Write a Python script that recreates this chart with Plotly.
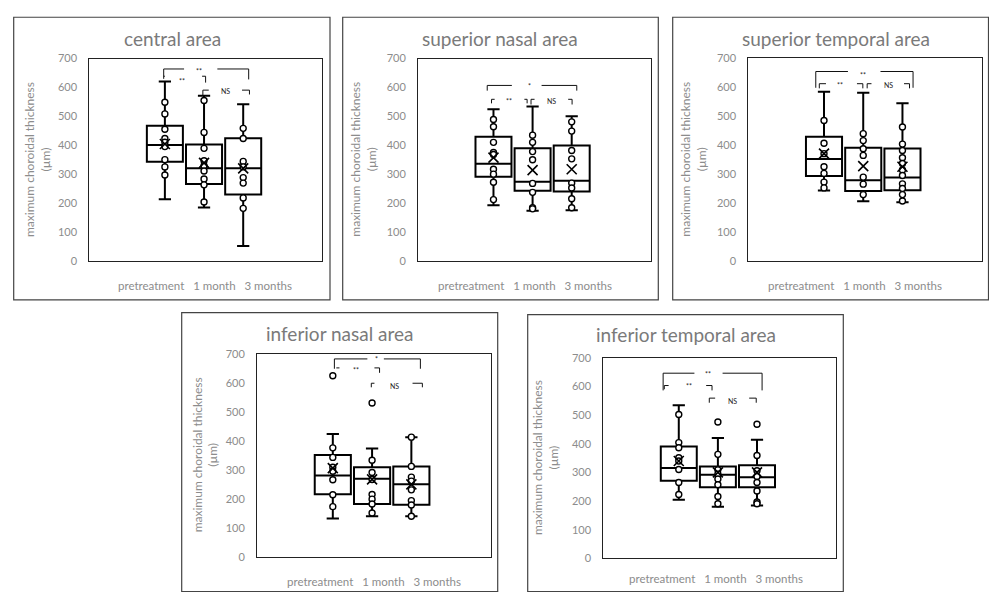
import plotly.graph_objects as go

W, H = 989, 598

categories = ["pretreatment", "1 month", "3 months"]
y_ticks = [0, 100, 200, 300, 400, 500, 600, 700]
titles = ["central area", "superior nasal area", "superior temporal area",
          "inferior nasal area", "inferior temporal area"]

# ---- central area ----
central_q1 = [344, 267, 231]
central_median = [402, 321, 321]
central_q3 = [468, 403, 425]
central_lower = [214, 186, 53]
central_upper = [621, 572, 542]
central_mean = [405, 340, 321]
central_points = [[549, 509, 456, 424, 411, 396, 351, 326, 298],
                  [555, 445, 390, 347, 330, 312, 284, 264, 205],
                  [459, 424, 345, 326, 289, 270, 219, 183]]

# ---- superior nasal area ----
sn_q1 = [291, 243, 240]
sn_median = [336, 274, 277]
sn_q3 = [429, 390, 399]
sn_lower = [192, 173, 175]
sn_upper = [525, 534, 500]
sn_mean = [357, 314, 317]
sn_points = [[489, 464, 410, 375, 368, 317, 300, 272, 212],
             [435, 410, 378, 350, 268, 237, 184, 180],
             [481, 449, 382, 353, 269, 252, 215, 184]]

# ---- superior temporal area ----
st_q1 = [294, 242, 245]
st_median = [353, 279, 289]
st_q3 = [429, 391, 389]
st_lower = [244, 207, 204]
st_upper = [584, 581, 545]
st_mean = [371, 328, 326]
st_points = [[485, 407, 371, 326, 303, 273, 253],
             [440, 416, 388, 365, 290, 266, 230],
             [463, 404, 382, 357, 337, 315, 296, 267, 251, 230, 208]]

# ---- inferior nasal area ----
in_q1 = [216, 182, 180]
in_median = [281, 269, 250]
in_q3 = [351, 309, 312]
in_lower = [132, 140, 140]
in_upper = [424, 374, 413]
in_mean = [306, 267, 250]
in_points = [[625, 376, 343, 309, 295, 266, 214, 173],
             [531, 333, 291, 267, 215, 199, 182, 151],
             [413, 312, 275, 261, 231, 194, 179, 140]]

# ---- inferior temporal area ----
it_q1 = [271, 248, 248]
it_median = [315, 292, 283]
it_q3 = [390, 321, 325]
it_lower = [205, 180, 185]
it_upper = [534, 420, 414]
it_mean = [340, 300, 300]
it_points = [[502, 404, 386, 351, 340, 310, 265, 223],
             [476, 363, 309, 294, 277, 257, 216, 191],
             [468, 359, 306, 286, 265, 235, 197, 191]]

# significance labels
sig_central = ["**", "**", "NS"]
sig_sn = ["*", "**", "NS"]
sig_st = ["**", "**", "NS"]
sig_in = ["*", "**", "NS"]
sig_it = ["**", "**", "NS"]

stats = [
    (central_q1, central_median, central_q3, central_lower, central_upper, central_mean, central_points, sig_central),
    (sn_q1, sn_median, sn_q3, sn_lower, sn_upper, sn_mean, sn_points, sig_sn),
    (st_q1, st_median, st_q3, st_lower, st_upper, st_mean, st_points, sig_st),
    (in_q1, in_median, in_q3, in_lower, in_upper, in_mean, in_points, sig_in),
    (it_q1, it_median, it_q3, it_lower, it_upper, it_mean, it_points, sig_it),
]

# ---- layout geometry (pixels) ----
geom = [
    dict(plot=(89.3, 52.7, 322.3, 260.0), frame=(13.7, 10.5, 330.0, 299.3),
         title=(172, 31.7), ytitle=(38, 156.4), leg=(205, 285)),
    dict(plot=(418.0, 52.7, 650.7, 259.5), frame=(342.7, 10.5, 658.3, 299.3),
         title=(500, 31.7), ytitle=(364, 156.1), leg=(525, 285)),
    dict(plot=(748.3, 52.3, 981.7, 260.0), frame=(672.7, 10.5, 988.5, 299.3),
         title=(836, 31.7), ytitle=(694, 156.1), leg=(855, 285)),
    dict(plot=(257.0, 354.7, 490.7, 562.0), frame=(181.7, 312.5, 497.7, 597.5),
         title=(340, 334), ytitle=(205, 458.3), leg=(373.5, 587)),
    dict(plot=(603.3, 358.5, 836.0, 563.7), frame=(527.7, 314.5, 843.3, 597.5),
         title=(686, 334.7), ytitle=(545, 461.1), leg=(716, 584)),
]

# bracket geometry in data units: (x0, x1, ytop, yleft, yright, gap0, gap1, lx, ly)
brackets = [
    [(-0.03, 2.14, 664, 630, 628, 0.49, 1.34, 0.87, 656),
     (-0.03, 1.04, 639, 639, 617, 0.00, 0.95, 0.44, 622),
     (0.97, 2.16, 591, 572, 576, 1.12, 1.97, 1.55, 587)],
    [(-0.16, 2.13, 607, 589, 589, 0.47, 1.23, 0.91, 606),
     (-0.05, 0.86, 559, 545, 545, 0.03, 0.79, 0.39, 553),
     (0.96, 2.01, 559, 541, 541, 1.05, 1.91, 1.49, 554)],
    [(-0.21, 2.27, 654, 598, 598, 0.61, 1.44, 0.99, 642),
     (-0.12, 0.99, 612, 596, 596, 0.05, 0.84, 0.41, 608),
     (1.10, 2.18, 612, 596, 596, 1.21, 2.04, 1.65, 608)],
    [(0.04, 2.23, 683, 649, 649, 0.88, 1.30, 1.12, 682),
     (0.09, 1.19, 652, 652, 635, 0.17, 1.06, 0.58, 644),
     (0.98, 2.28, 599, 585, 585, 1.06, 2.03, 1.57, 591)],
    [(-0.40, 2.13, 646, 586, 586, 0.40, 1.12, 0.74, 644),
     (-0.37, 0.85, 603, 590, 586, -0.26, 0.70, 0.25, 602),
     (0.78, 1.98, 559, 543, 543, 0.93, 1.80, 1.38, 549)],
]

FONT = "Lato, 'Open Sans', sans-serif"
GREY = "#8c8c8c"
TITLE_GREY = "#7a7a7a"
XR = [-1.93, 4.02]

def px(x):
    return x / W

def py(y):
    return 1 - y / H

fig = go.Figure()
shapes = []
annotations = []
layout_axes = {}

for i, (q1, med, q3, lo, up, mean, pts, sig) in enumerate(stats):
    n = i + 1
    xa = "x" if n == 1 else f"x{n}"
    ya = "y" if n == 1 else f"y{n}"
    g = geom[i]
    x0, y0, x1, y1 = g["plot"]

    for k in range(3):
        fig.add_trace(go.Box(
            x=[k], q1=[q1[k]], median=[med[k]], q3=[q3[k]],
            lowerfence=[lo[k]], upperfence=[up[k]],
            width=0.92, whiskerwidth=0.34, boxpoints=False,
            fillcolor="white", line=dict(color="black", width=2),
            xaxis=xa, yaxis=ya, showlegend=False, name=categories[k],
            hoverinfo="skip"))
    for k in range(3):
        fig.add_trace(go.Scatter(
            x=[k] * len(pts[k]), y=pts[k], mode="markers",
            marker=dict(symbol="circle", size=6, color="white",
                        line=dict(color="black", width=1.4)),
            xaxis=xa, yaxis=ya, showlegend=False, hoverinfo="skip"))
    fig.add_trace(go.Scatter(
        x=[0, 1, 2], y=mean, mode="markers",
        marker=dict(symbol="x-thin", size=10, color="black",
                    line=dict(color="black", width=1.6)),
        xaxis=xa, yaxis=ya, showlegend=False, hoverinfo="skip"))

    key = "" if n == 1 else str(n)
    layout_axes[f"xaxis{key}"] = dict(
        domain=[px(x0), px(x1)], range=XR, anchor=ya,
        showgrid=False, zeroline=False, showticklabels=False, ticks="",
        showline=True, mirror=True, linecolor="#222", linewidth=1, fixedrange=True)
    layout_axes[f"yaxis{key}"] = dict(
        domain=[py(y1), py(y0)], range=[0, 700], anchor=xa,
        tickvals=y_ticks, showgrid=False, zeroline=False, ticks="",
        ticklabelstandoff=9,
        tickfont=dict(family=FONT, size=11, color=GREY),
        showline=True, mirror=True, linecolor="#222", linewidth=1, fixedrange=True)

    fx0, fy0, fx1, fy1 = g["frame"]
    shapes.append(dict(type="rect", xref="paper", yref="paper",
                       x0=px(fx0), x1=px(fx1), y0=py(fy1), y1=py(fy0),
                       line=dict(color="#444", width=1.2)))
    tx, ty = g["title"]
    annotations.append(dict(x=px(tx), y=py(ty), xref="paper", yref="paper",
                            text=titles[i], showarrow=False,
                            xanchor="center", yanchor="middle",
                            font=dict(family=FONT, size=19, color=TITLE_GREY)))
    yx, yy = g["ytitle"]
    annotations.append(dict(x=px(yx), y=py(yy), xref="paper", yref="paper",
                            text="maximum choroidal thickness<br>(\u00b5m)",
                            textangle=-90, showarrow=False,
                            xanchor="center", yanchor="middle",
                            font=dict(family=FONT, size=12, color=GREY)))
    lx, ly = g["leg"]
    annotations.append(dict(x=px(lx), y=py(ly), xref="paper", yref="paper",
                            text="\u00a0\u00a0\u00a0".join(categories),
                            showarrow=False, xanchor="center", yanchor="middle",
                            font=dict(family=FONT, size=11.5, color=GREY)))
    for b, lab in zip(brackets[i], sig):
        bx0, bx1, ytop, yl, yr, g0, g1, blx, bly = b
        segs = [(bx0, yl, bx0, ytop), (bx0, ytop, g0, ytop),
                (g1, ytop, bx1, ytop), (bx1, ytop, bx1, yr)]
        for (a, b_, c, d) in segs:
            if a == c and b_ == d:
                continue
            shapes.append(dict(type="line", xref=xa, yref=ya,
                               x0=a, y0=b_, x1=c, y1=d,
                               line=dict(color="#111", width=1)))
        annotations.append(dict(x=blx, y=bly, xref=xa, yref=ya, text=lab,
                                showarrow=False, xanchor="center", yanchor="middle",
                                font=dict(family=FONT, size=7, color="#222")))

fig.update_layout(
    width=W, height=H, margin=dict(l=0, r=0, t=0, b=0),
    paper_bgcolor="white", plot_bgcolor="white",
    boxmode="overlay", showlegend=False,
    shapes=shapes, annotations=annotations,
    **layout_axes)

fig.write_html("out.html", config={"displayModeBar": False},
               post_script="document.body.style.margin='0';document.body.style.overflow='hidden';")
